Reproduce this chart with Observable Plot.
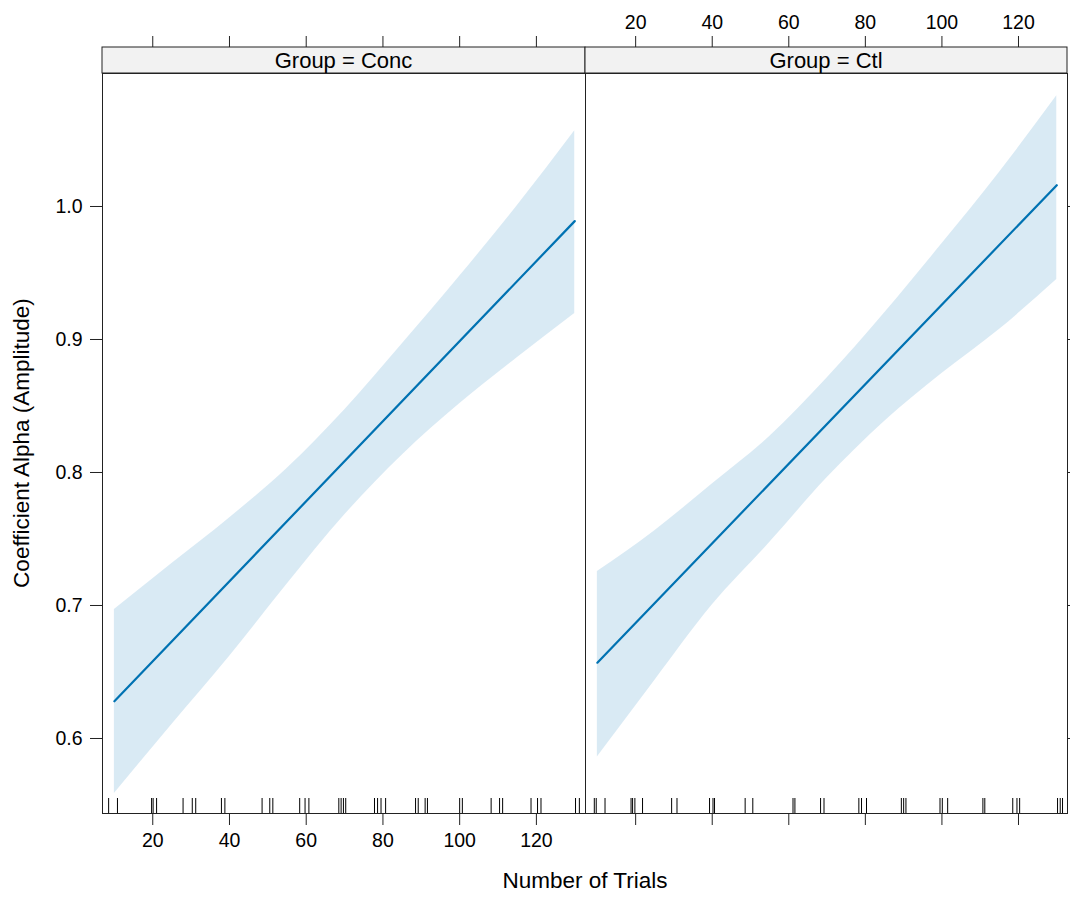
<!DOCTYPE html>
<html>
<head>
<meta charset="utf-8">
<script src="https://cdn.jsdelivr.net/npm/d3@7"></script>
<script src="https://cdn.jsdelivr.net/npm/@observablehq/plot@0.6"></script>
<style>
  html, body { margin: 0; padding: 0; background: #fff; }
  #chart { position: relative; width: 1070px; height: 897px; overflow: hidden; font-family: "Liberation Sans", Arial, sans-serif; color: #000; }
  #chart svg { position: absolute; top: 0; background: transparent; }
  .title { position: absolute; font-size: 22.5px; white-space: nowrap; }
</style>
</head>
<body>
<div id="chart">
  <div class="title" id="xlab" style="left:385px;width:400px;top:868px;text-align:center;line-height:26px;">Number of Trials</div>
  <div class="title" id="ylab" style="left:22px;top:443px;transform:translate(-50%,-50%) rotate(-90deg);line-height:26px;">Coefficient Alpha (Amplitude)</div>
</div>
<script>
// ---- data ----
const groups = ["Conc", "Ctl"];
const xTicks = [20, 40, 60, 80, 100, 120];
const yTicks = [0.6, 0.7, 0.8, 0.9, 1.0];

// confidence band (x grid, lower, upper) per group
const bandTrials = [10, 25, 40, 55, 70, 85, 100, 115, 130];
const concLower = [0.5586, 0.6106, 0.6617, 0.7160, 0.7680, 0.8130, 0.8516, 0.8863, 0.9195];
const concUpper = [0.697, 0.7315, 0.7658, 0.8030, 0.8470, 0.8966, 0.9475, 1.0006, 1.057];
const ctlLower  = [0.586, 0.6436, 0.7003, 0.7473, 0.7960, 0.8384, 0.8744, 0.9075, 0.9451];
const ctlUpper  = [0.7255, 0.7562, 0.7914, 0.8270, 0.8710, 0.9199, 0.9719, 1.0256, 1.0832];

// fitted line end points
const fitTrials = [10, 130];
const concFit = [0.628, 0.989];
const ctlFit  = [0.657, 1.016];

// rug (jittered trial counts)
const concRug = [8.5, 10.8, 19.7, 20.1, 21.0, 27.9, 30.3, 31.2, 37.9, 38.8, 48.5, 50.5, 51.3, 58.3, 59.7, 60.7,
  68.5, 69.1, 69.7, 70.3, 77.8, 78.6, 79.5, 80.7, 88.5, 89.2, 91.0, 91.6, 100.0, 100.7, 108.2, 110.4, 111.2,
  118.6, 120.3, 121.2, 130.2, 131.2];
const ctlRug = [9.2, 9.7, 12.0, 18.8, 19.2, 19.8, 21.8, 29.4, 30.8, 39.3, 40.2, 40.6, 48.6, 50.6, 61.1, 61.6,
  68.3, 69.2, 78.3, 79.0, 80.3, 89.4, 90.0, 90.6, 99.5, 100.1, 101.5, 110.7, 111.2, 118.5, 119.6, 120.3,
  130.2, 130.9, 131.5];

const xDomain = [6.9, 132.8];
const yDomain = [0.5436, 1.1];
const lineColor = "#0072B2";
const H = 897, MT = 73, MB = 84;

function panel({group, lower, upper, fit, rug, isLeft, width, ml, mr, left}) {
  const band = bandTrials.map((t, i) => ({t, lo: lower[i], hi: upper[i]}));
  const line = fitTrials.map((t, i) => ({t, a: fit[i]}));
  const plot = Plot.plot({
    width, height: H,
    marginLeft: ml, marginRight: mr, marginTop: MT, marginBottom: MB,
    x: {domain: xDomain, label: null},
    y: {domain: yDomain, label: null},
    style: {fontFamily: "'Liberation Sans', Arial, sans-serif", fontSize: "19.5px", color: "#000", background: "transparent", overflow: "visible"},
    marks: [
      Plot.areaY(band, {x: "t", y1: "lo", y2: "hi", fill: lineColor, fillOpacity: 0.15, curve: "monotone-x"}),
      Plot.line(line, {x: "t", y: "a", stroke: lineColor, strokeWidth: 2.2}),
      Plot.tickX(rug, {x: d => d, insetTop: H - MT - MB - 15, stroke: "#000", strokeWidth: 1}),
      Plot.frame({stroke: "#222", strokeWidth: 1}),
      Plot.axisX(xTicks, {anchor: "bottom", tickSize: 12, tickPadding: 8, label: null, stroke: "#222",
        tickFormat: isLeft ? (d => String(d)) : (() => "")}),
      Plot.axisX(xTicks, {anchor: "top", dy: -26, tickSize: 12, tickPadding: 7, label: null, stroke: "#222",
        tickFormat: isLeft ? (() => "") : (d => String(d))}),
      isLeft
        ? Plot.axisY(yTicks, {anchor: "left", tickSize: 12, tickPadding: 8, label: null, stroke: "#222", tickFormat: d3.format(".1f")})
        : Plot.axisY(yTicks, {anchor: "right", tickSize: 12, label: null, stroke: "#222", tickFormat: () => ""})
    ]
  });
  plot.style.left = left + "px";
  const svg = d3.select(plot);
  const pw = width - ml - mr;
  const strip = svg.append("g");
  strip.append("rect").attr("x", ml).attr("y", 47).attr("width", pw).attr("height", MT - 47)
    .attr("fill", "#f2f2f2").attr("stroke", "#222").attr("stroke-width", 1);
  strip.append("text").attr("x", ml + pw / 2).attr("y", 60).attr("text-anchor", "middle")
    .attr("dominant-baseline", "central").attr("font-size", "22px").attr("fill", "#000")
    .text(`Group = ${group}`);
  return plot;
}

const chart = document.getElementById("chart");
chart.appendChild(panel({group: groups[0], lower: concLower, upper: concUpper, fit: concFit, rug: concRug,
  isLeft: true, width: 586, ml: 102, mr: 1, left: 0}));
chart.appendChild(panel({group: groups[1], lower: ctlLower, upper: ctlUpper, fit: ctlFit, rug: ctlRug,
  isLeft: false, width: 486, ml: 1, mr: 3, left: 584}));
</script>
</body>
</html>
